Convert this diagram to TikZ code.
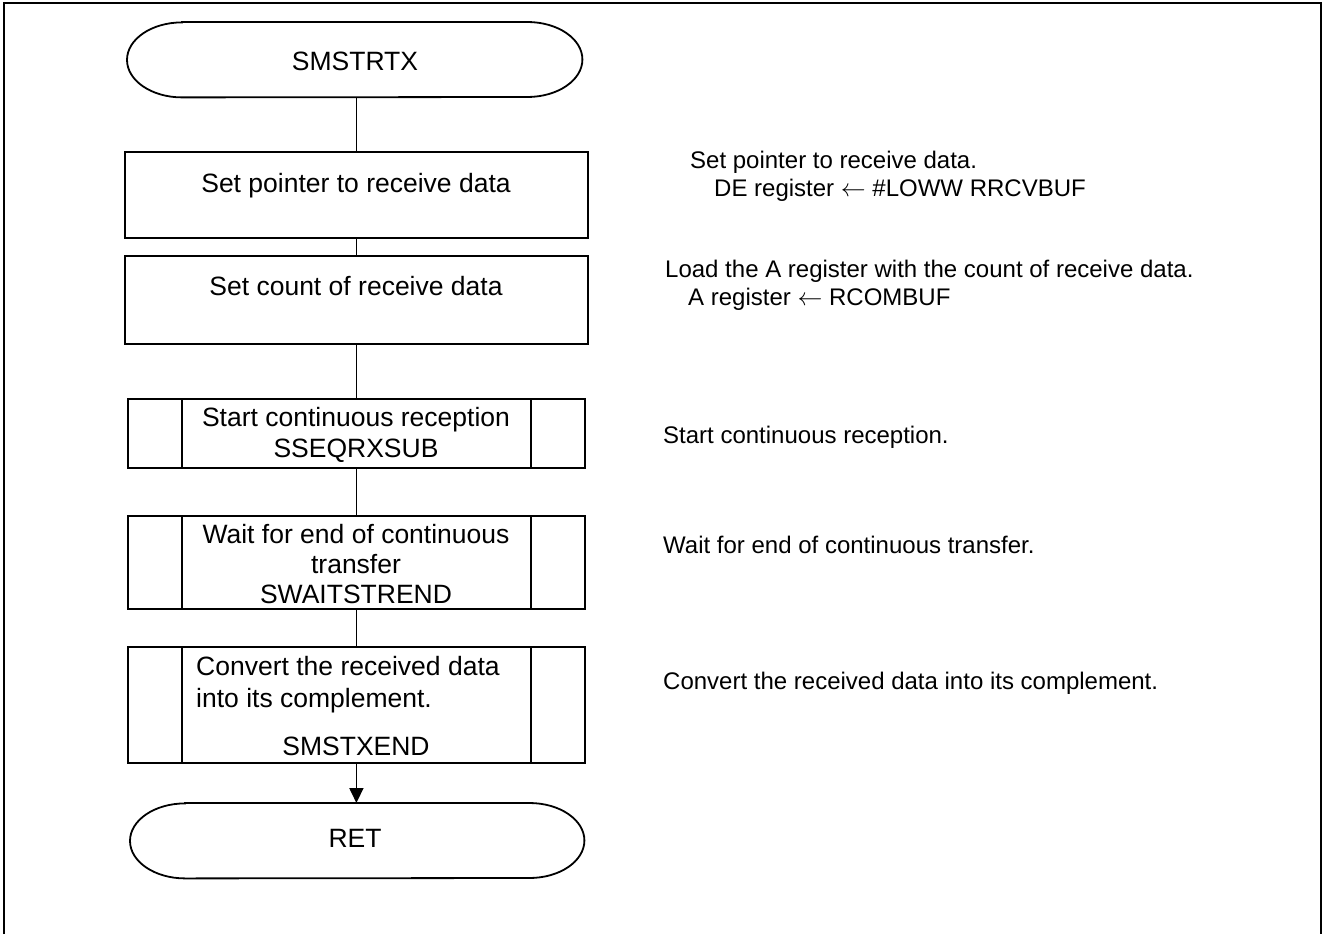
\documentclass[tikz,border=0pt]{standalone}
\usepackage{fontspec}
\setmainfont{Liberation Sans}
\usetikzlibrary{arrows.meta}
\begin{document}
\begin{tikzpicture}[x=1pt,y=-1pt,
  flow/.style={line width=1.8pt},
  frameline/.style={line width=2.4pt},
  boxshape/.style={draw, line width=1.8pt, rectangle, inner sep=0pt, anchor=north west},
  termshape/.style={rectangle, inner sep=0pt, anchor=north west},
  boxtext/.style={font=\fontsize{26.5}{30}\selectfont, inner sep=0pt, anchor=base},
  boxtextl/.style={font=\fontsize{26.5}{30}\selectfont, inner sep=0pt, anchor=base west},
  note/.style={font=\fontsize{24}{28}\selectfont, inner sep=0pt, anchor=base west, text height=17pt, text depth=4pt},
  arr/.style={flow, -{Triangle[length=15pt,width=14pt]}},
]
\useasboundingbox (0,0) rectangle (1324,934);
% outer frame (bottom edge outside the picture)
\coordinate (fa) at (4,934);
\coordinate (fb) at (4,3);
\coordinate (fc) at (1321,3);
\coordinate (fd) at (1321,934);
\draw[frameline] (fa) -- (fb) -- (fc) -- (fd);

% terminals
\node[termshape, minimum width=455pt, minimum height=75pt] (T1) at (127,22) {};
\draw[flow] ([xshift=55pt]T1.north west) -- ([xshift=-55pt]T1.north east)
  arc[start angle=90, end angle=-90, x radius=55pt, y radius=37.5pt]
  -- ([xshift=55pt]T1.south west)
  arc[start angle=270, end angle=90, x radius=55pt, y radius=37.5pt] -- cycle;
\node[boxtext] (t1) at (355,70.5) {SMSTRTX};

\node[termshape, minimum width=454pt, minimum height=75pt] (T2) at (130,803) {};
\draw[flow] ([xshift=55pt]T2.north west) -- ([xshift=-55pt]T2.north east)
  arc[start angle=90, end angle=-90, x radius=55pt, y radius=37.5pt]
  -- ([xshift=55pt]T2.south west)
  arc[start angle=270, end angle=90, x radius=55pt, y radius=37.5pt] -- cycle;
\node[boxtext] (t2) at (355,847.5) {RET};

% process boxes
\node[boxshape, minimum width=463pt, minimum height=86pt] (B1) at (124,151) {};
\node[boxtext] (b1) at (356,192.5) {Set pointer to receive data};
\node[boxshape, minimum width=463pt, minimum height=88pt] (B2) at (124,255) {};
\node[boxtext] (b2) at (356,295.5) {Set count of receive data};

% subroutine boxes
\node[boxshape, minimum width=457pt, minimum height=69pt] (B3) at (127,398) {};
\node[boxshape, minimum width=457pt, minimum height=93pt] (B4) at (127,515) {};
\node[boxshape, minimum width=457pt, minimum height=116pt] (B5) at (127,646) {};
\foreach \b in {B3,B4,B5}{
  \draw[flow] ([xshift=55pt]\b.north west) -- ([xshift=55pt]\b.south west);
  \draw[flow] ([xshift=-55pt]\b.north east) -- ([xshift=-55pt]\b.south east);
}
\node[boxtext] (b3a) at (356,426.5) {Start continuous reception};
\node[boxtext] (b3b) at (356,457.5) {SSEQRXSUB};
\node[boxtext] (b4a) at (356,543.5) {Wait for end of continuous};
\node[boxtext] (b4b) at (356,573.5) {transfer};
\node[boxtext] (b4c) at (356,603.5) {SWAITSTREND};
\node[boxtextl] (b5a) at (196,675.5) {Convert the received data};
\node[boxtextl] (b5b) at (196,707.5) {into its complement.};
\node[boxtext] (b5c) at (356,755.5) {SMSTXEND};

% connectors
\draw[flow] (T1.south -| B1.north) -- (B1.north);
\draw[flow] (B1.south) -- (B2.north);
\draw[flow] (B2.south) -- (B2.south |- B3.north);
\draw[flow] (B3.south -| B2.south) -- (B2.south |- B4.north);
\draw[flow] (B4.south -| B2.south) -- (B2.south |- B5.north);
\draw[arr] (B5.south -| B2.south) -- (B2.south |- T2.north);

% notes
\node[note] (n1) at (690,168.5) {Set pointer to receive data.};
\node[note] (n2) at (714,196.5) {DE register \(\leftarrow\) \#LOWW RRCVBUF};
\node[note] (n3) at (665,277.5) {Load the A register with the count of receive data.};
\node[note] (n4) at (688,305) {A register \(\leftarrow\) RCOMBUF};
\node[note] (n5) at (663,443.5) {Start continuous reception.};
\node[note] (n6) at (663,553.5) {Wait for end of continuous transfer.};
\node[note] (n7) at (663,689.5) {Convert the received data into its complement.};
\end{tikzpicture}
\end{document}
